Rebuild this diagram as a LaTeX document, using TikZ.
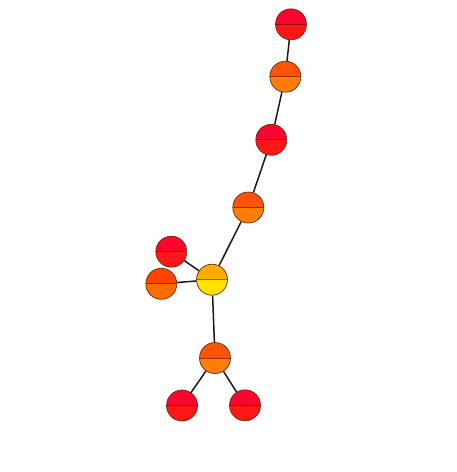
\documentclass[tikz,border=0pt]{standalone}
\usetikzlibrary{calc}
\definecolor{redT}{RGB}{252,6,48}
\definecolor{redB}{RGB}{255,22,22}
\definecolor{redL}{RGB}{150,0,20}
\definecolor{orT}{RGB}{255,84,8}
\definecolor{orB}{RGB}{255,125,8}
\definecolor{orL}{RGB}{150,45,0}
\definecolor{or2T}{RGB}{255,68,0}
\definecolor{or2B}{RGB}{255,108,0}
\definecolor{yeT}{RGB}{255,170,0}
\definecolor{yeB}{RGB}{255,226,0}
\definecolor{yeL}{RGB}{150,95,0}
\definecolor{rim}{RGB}{110,40,10}
\tikzset{
  x=1pt, y=-1pt,
  duo/.style n args={3}{circle, minimum size=31pt, inner sep=0pt, draw=rim, line width=0.7pt,
    path picture={
      \fill[#1] (path picture bounding box.north west) rectangle (path picture bounding box.east);
      \fill[#2] (path picture bounding box.west) rectangle (path picture bounding box.south east);
      \draw[#3, line width=1pt] (path picture bounding box.west) -- (path picture bounding box.east);
    }},
  rednode/.style={duo={redT}{redB}{redL}},
  ornode/.style={duo={orT}{orB}{orL}},
  or2node/.style={duo={or2T}{or2B}{orL}},
  yenode/.style={duo={yeT}{yeB}{yeL}},
  link/.style={draw=black!90, line width=1.5pt}
}
\begin{document}
\begin{tikzpicture}
\useasboundingbox (0,0) rectangle (457,472);
\node[rednode] (n1) at (291,24.3) {};
\node[ornode] (n2) at (285.3,76.7) {};
\node[rednode] (n3) at (271.3,139.8) {};
\node[ornode] (n4) at (248.3,207.5) {};
\node[rednode] (n5) at (171.3,251.7) {};
\node[or2node] (n6) at (161.3,283.8) {};
\node[yenode] (n7) at (212,279.7) {};
\node[ornode] (n8) at (215,358) {};
\node[rednode] (n9) at (182,405.5) {};
\node[rednode] (n10) at (245,405.3) {};
\draw[link] (n1) -- (n2);
\draw[link] (n2) -- (n3);
\draw[link] (n3) -- (n4);
\draw[link] (n4) -- (n7);
\draw[link] (n7) -- (n5);
\draw[link] (n7) -- (n6);
\draw[link] (n7) -- (n8);
\draw[link] (n8) -- (n9);
\draw[link] (n8) -- (n10);
\end{tikzpicture}
\end{document}
